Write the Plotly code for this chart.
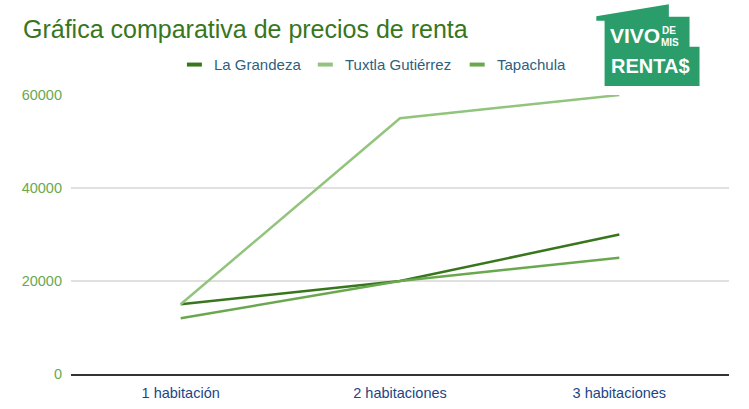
import plotly.graph_objects as go

# ---- data ----
categories = ["1 habitación", "2 habitaciones", "3 habitaciones"]
la_grandeza = [15000, 20000, 30000]
tuxtla = [15000, 55000, 60000]
tapachula = [12000, 20000, 25000]
series_names = ["La Grandeza", "Tuxtla Gutiérrez", "Tapachula"]
y_ticks = [0, 20000, 40000, 60000]
title_text = "Gráfica comparativa de precios de renta"

colors = ["#38761d", "#93c47d", "#6aa84f"]

W, H = 749, 409
L, R, T, B = 71, 19.5, 95, 34.5
PW, PH = W - L - R, H - T - B


def px(x):
    return (x - L) / PW


def py(y):
    return (H - B - y) / PH


fig = go.Figure()
for name, vals, col in zip(series_names, [la_grandeza, tuxtla, tapachula], colors):
    fig.add_trace(go.Scatter(x=categories, y=vals, name=name, mode="lines",
                             line=dict(color=col, width=2.5), cliponaxis=False,
                             showlegend=False))

shapes = []
annotations = []

# title
annotations.append(dict(text=title_text, xref="paper", yref="paper", x=px(21), y=py(28.5),
                        xanchor="left", yanchor="middle", showarrow=False,
                        font=dict(family="Arial, Liberation Sans", size=25, color="#38761d")))

# manual legend
leg_sym_x = [187, 318, 470]
for name, col, sx in zip(series_names, colors, leg_sym_x):
    shapes.append(dict(type="rect", xref="paper", yref="paper",
                       x0=px(sx), x1=px(sx + 15), y0=py(62.5), y1=py(66.5),
                       fillcolor=col, line=dict(width=0), layer="above"))
    annotations.append(dict(text=name, xref="paper", yref="paper", x=px(sx + 25), y=py(64.5),
                            xanchor="left", yanchor="middle", showarrow=False,
                            font=dict(family="Arial, Liberation Sans", size=15, color="#2e5f7f")))

# logo
logo_pts = [(596.7, 16), (669.3, 4), (669.3, 16.7), (690, 16.7), (690, 46.7), (700, 46.7),
            (700, 86), (605, 86), (605, 20.7), (596.7, 20.7)]
path = "M " + " L ".join(f"{px(a):.5f},{py(b):.5f}" for a, b in logo_pts) + " Z"
shapes.append(dict(type="path", xref="paper", yref="paper", path=path,
                   fillcolor="#2a9d6a", line=dict(width=0), layer="above"))
logo_font = "Arial, Liberation Sans, sans-serif"
annotations.append(dict(text="<b>VIVO</b>", xref="paper", yref="paper", x=px(635), y=py(35.5),
                        xanchor="center", yanchor="middle", showarrow=False,
                        font=dict(family=logo_font, size=21, color="white")))
annotations.append(dict(text="<b>DE</b>", xref="paper", yref="paper", x=px(669.5), y=py(30),
                        xanchor="center", yanchor="middle", showarrow=False,
                        font=dict(family=logo_font, size=10, color="white")))
annotations.append(dict(text="<b>MIS</b>", xref="paper", yref="paper", x=px(670.5), y=py(42),
                        xanchor="center", yanchor="middle", showarrow=False,
                        font=dict(family=logo_font, size=10, color="white")))
annotations.append(dict(text="<b>RENTA$</b>", xref="paper", yref="paper", x=px(651), y=py(66),
                        xanchor="center", yanchor="middle", showarrow=False,
                        font=dict(family=logo_font, size=20, color="white")))

fig.update_layout(
    width=W, height=H,
    margin=dict(l=L, r=R, t=T, b=B, pad=0, autoexpand=False),
    paper_bgcolor="white", plot_bgcolor="white",
    showlegend=False,
    shapes=shapes, annotations=annotations,
    font=dict(family="Arial, Liberation Sans"),
)
fig.update_xaxes(type="category", range=[-0.5, 2.5], showgrid=False, zeroline=False,
                 showline=True, linecolor="#333333", linewidth=1.5, ticks="",
                 ticklabelstandoff=5, automargin=False,
                 tickfont=dict(size=14.5, color="#1c4587"))
fig.update_yaxes(range=[0, 60000], tickvals=y_ticks, ticktext=[str(v) for v in y_ticks],
                 showgrid=True, gridcolor="#e0e0e0", gridwidth=1.5, zeroline=False,
                 showline=False, ticks="", ticklabelstandoff=8, automargin=False,
                 tickfont=dict(size=14.5, color="#6aa84f"))

fig.write_html("out.html", config={"displayModeBar": False},
               post_script="document.body.style.margin='0';")
